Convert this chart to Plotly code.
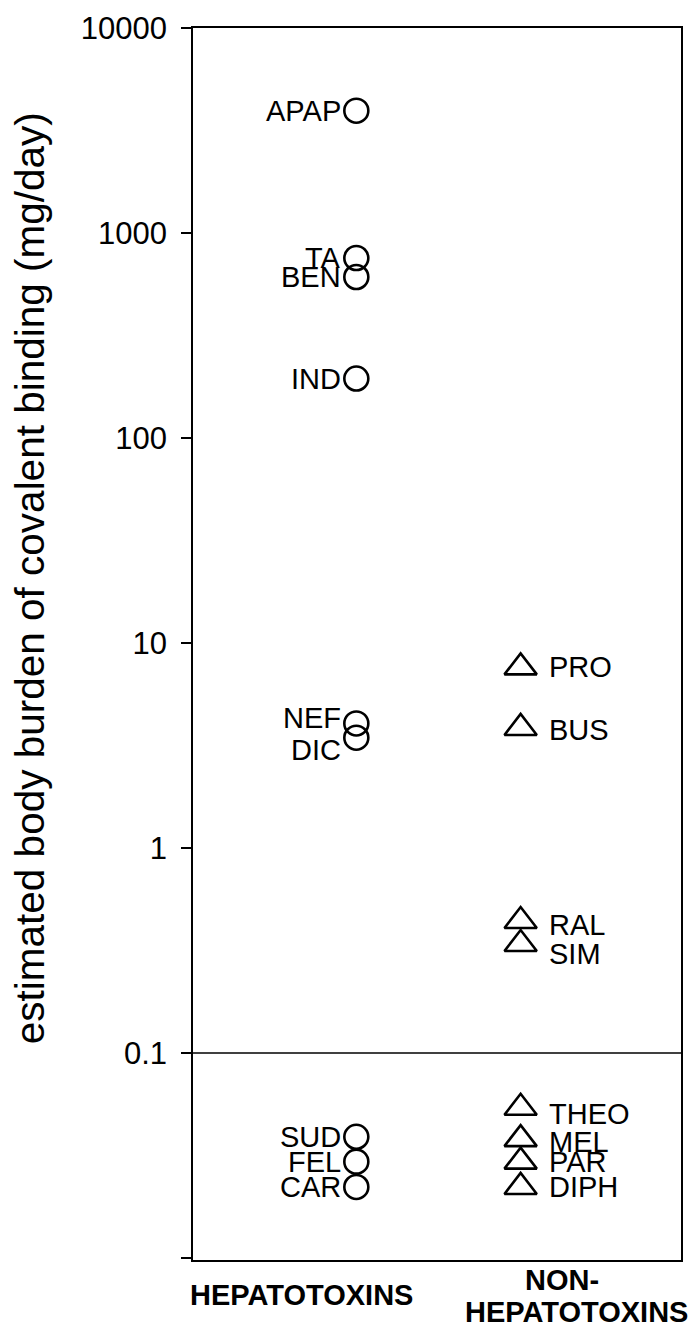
import math
import plotly.graph_objects as go

# ---- data ----
hep_names = ["APAP", "TA", "BEN", "IND", "NEF", "DIC", "SUD", "FEL", "CAR"]
hep_values = [3950, 755, 610, 195, 4.05, 3.45, 0.039, 0.0295, 0.0222]

non_names = ["PRO", "BUS", "RAL", "SIM", "THEO", "MEL", "PAR", "DIPH"]
non_values = [7.6, 3.85, 0.44, 0.34, 0.054, 0.038, 0.0295, 0.0222]

group_labels = ["HEPATOTOXINS", "NON-", "HEPATOTOXINS"]
tick_values = [0.01, 0.1, 1, 10, 100, 1000, 10000]
tick_text = ["", "0.1", "1", "10", "100", "1000", "10000"]
threshold = 0.1
y_title = "estimated body burden of covalent binding (mg/day)"

FONT = "Liberation Sans, Arial, sans-serif"

fig = go.Figure()

fig.add_trace(go.Scatter(
    x=[0] * len(hep_values), y=hep_values, mode="markers",
    marker=dict(symbol="circle-open", size=24, color="black",
                line=dict(width=2.6, color="black")),
    showlegend=False, hoverinfo="text", text=hep_names,
))
fig.add_trace(go.Scatter(
    x=[1] * len(non_values), y=non_values, mode="markers",
    marker=dict(symbol="triangle-up-open", size=28, color="black",
                line=dict(width=2.6, color="black")),
    showlegend=False, hoverinfo="text", text=non_names,
))

# label nudges (pixels) for crowded labels
hep_nudge = {"NEF": 5, "DIC": -12}
non_nudge = {"PRO": 0, "BUS": -2, "RAL": -4, "SIM": -10, "THEO": -6, "MEL": -3}

annotations = []
for n, v in zip(hep_names, hep_values):
    annotations.append(dict(
        x=0, y=math.log10(v), xref="x", yref="y", text=n, showarrow=False,
        xanchor="right", yanchor="middle", xshift=-13, yshift=hep_nudge.get(n, 0),
        font=dict(family=FONT, size=29, color="black"),
    ))
for n, v in zip(non_names, non_values):
    annotations.append(dict(
        x=1, y=math.log10(v), xref="x", yref="y", text=n, showarrow=False,
        xanchor="left", yanchor="middle", xshift=26, yshift=non_nudge.get(n, 0),
        font=dict(family=FONT, size=29, color="black"),
    ))

# y axis title
annotations.append(dict(
    x=-0.335, y=0.553, xref="paper", yref="paper", text=y_title, showarrow=False,
    textangle=-90, xanchor="center", yanchor="middle",
    font=dict(family=FONT, size=40.5, color="black"),
))

# group labels
annotations.append(dict(
    x=0.222, y=-0.0285, xref="paper", yref="paper", text="<b>" + group_labels[0] + "</b>",
    showarrow=False, xanchor="center", yanchor="middle",
    font=dict(family=FONT, size=29, color="black"),
))
annotations.append(dict(
    x=0.756, y=-0.0162, xref="paper", yref="paper", text="<b>" + group_labels[1] + "</b>",
    showarrow=False, xanchor="center", yanchor="middle",
    font=dict(family=FONT, size=29, color="black"),
))
annotations.append(dict(
    x=0.785, y=-0.0422, xref="paper", yref="paper", text="<b>" + group_labels[2] + "</b>",
    showarrow=False, xanchor="center", yanchor="middle",
    font=dict(family=FONT, size=29, color="black"),
))

fig.update_layout(
    width=689, height=1333,
    margin=dict(l=193, r=6, t=28, b=73),
    paper_bgcolor="white", plot_bgcolor="white",
    font=dict(family=FONT, color="black"),
    annotations=annotations,
    shapes=[dict(type="line", xref="paper", yref="y", x0=0, x1=1,
                 y0=threshold, y1=threshold,
                 line=dict(color="black", width=1.5))],
    xaxis=dict(range=[-0.994, 1.976], showticklabels=False, ticks="",
               showgrid=False, zeroline=False, showline=True, linecolor="black",
               linewidth=1.5, mirror=True),
    yaxis=dict(type="log", range=[-2.01, 4.0], tickvals=tick_values, ticktext=tick_text,
               ticks="outside", ticklen=10, tickwidth=1.5, tickcolor="black",
               ticklabelstandoff=8,
               tickfont=dict(family=FONT, size=31, color="black"),
               showgrid=False, zeroline=False, showline=True, linecolor="black",
               linewidth=1.5, mirror=True),
)

fig.write_html("out.html")
